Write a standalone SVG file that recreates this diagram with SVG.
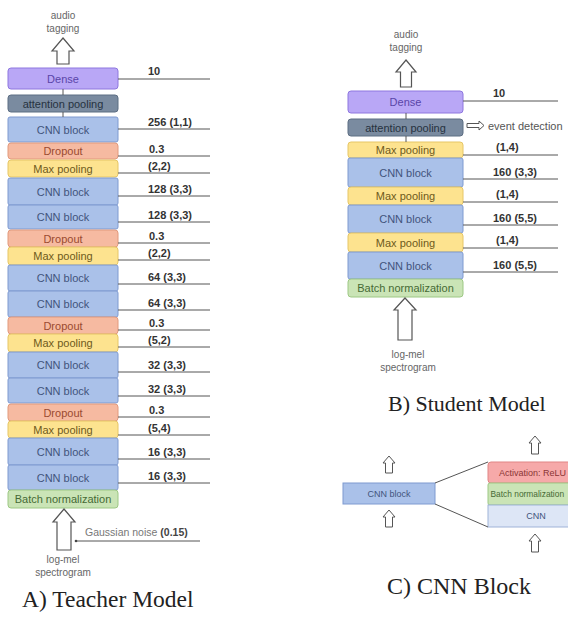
<svg xmlns="http://www.w3.org/2000/svg" width="568" height="622" viewBox="0 0 568 622">
<style>
text{font-family:"Liberation Sans",Arial,sans-serif}
.bt{font-size:11px;text-anchor:middle}
.sm{font-size:9px;text-anchor:middle}
.lab{font-size:11px;font-weight:bold;fill:#333}
.cap{font-size:10px;fill:#666;text-anchor:middle}
.title{font-family:"Liberation Serif","Times New Roman",serif;font-size:22px;fill:#222}
.dense{fill:#b9a7f6;stroke:#8e77df;stroke-width:1}
.att{fill:#7a8ba0;stroke:#5d6e83;stroke-width:1}
.cnn{fill:#aac1e9;stroke:#7e9ad0;stroke-width:1}
.drop{fill:#f6baa1;stroke:#e29a7d;stroke-width:1}
.maxp{fill:#fde38f;stroke:#e6c666;stroke-width:1}
.bn{fill:#cae4b6;stroke:#9dc884;stroke-width:1}
.relu{fill:#f6a9a9;stroke:#e08585;stroke-width:1}
.cnnl{fill:#dde6f6;stroke:#9fb3d8;stroke-width:1}
.t-dense{fill:#5a45a8}.t-att{fill:#26323f}.t-cnn{fill:#42547c}.t-drop{fill:#9a4a30}.t-maxp{fill:#6e5a1c}.t-bn{fill:#466a35}.t-relu{fill:#8a3535}
.ln{stroke:#555;stroke-width:1;fill:none}
.arr{fill:#fff;stroke:#555;stroke-width:1.2;stroke-linejoin:miter}
</style>

<!-- ===== A) Teacher Model ===== -->
<g id="teacher-output">
<text class="cap" x="63" y="19">audio</text>
<text class="cap" x="63" y="32">tagging</text>
<path class="arr" d="M63,38 L74,51 L69,51 L69,64 L57,64 L57,51 L52,51 Z"/>
</g>
<g id="t-dense"><rect class="dense" x="8" y="68" width="110" height="21" rx="3"/><text class="bt t-dense" x="63" y="82.5">Dense</text></g>
<g id="t-att"><rect class="att" x="8" y="95" width="110" height="17" rx="3"/><text class="bt t-att" x="63" y="107.5">attention pooling</text></g>
<g id="t-cnn1"><rect class="cnn" x="8" y="117" width="110" height="25" rx="2"/><text class="bt t-cnn" x="63" y="133.5">CNN block</text></g>
<g id="t-drop1"><rect class="drop" x="8" y="143" width="110" height="16" rx="3"/><text class="bt t-drop" x="63" y="155">Dropout</text></g>
<g id="t-max1"><rect class="maxp" x="8" y="160" width="110" height="17" rx="3"/><text class="bt t-maxp" x="63" y="172.5">Max pooling</text></g>
<g id="t-cnn2"><rect class="cnn" x="8" y="178" width="110" height="27" rx="2"/><text class="bt t-cnn" x="63" y="195.5">CNN block</text></g>
<g id="t-cnn3"><rect class="cnn" x="8" y="205" width="110" height="24" rx="2"/><text class="bt t-cnn" x="63" y="221">CNN block</text></g>
<g id="t-drop2"><rect class="drop" x="8" y="230" width="110" height="17" rx="3"/><text class="bt t-drop" x="63" y="242.5">Dropout</text></g>
<g id="t-max2"><rect class="maxp" x="8" y="247" width="110" height="18" rx="3"/><text class="bt t-maxp" x="63" y="260">Max pooling</text></g>
<g id="t-cnn4"><rect class="cnn" x="8" y="265" width="110" height="26" rx="2"/><text class="bt t-cnn" x="63" y="282">CNN block</text></g>
<g id="t-cnn5"><rect class="cnn" x="8" y="291" width="110" height="26" rx="2"/><text class="bt t-cnn" x="63" y="308">CNN block</text></g>
<g id="t-drop3"><rect class="drop" x="8" y="317" width="110" height="17" rx="3"/><text class="bt t-drop" x="63" y="329.5">Dropout</text></g>
<g id="t-max3"><rect class="maxp" x="8" y="334" width="110" height="18" rx="3"/><text class="bt t-maxp" x="63" y="347">Max pooling</text></g>
<g id="t-cnn6"><rect class="cnn" x="8" y="352" width="110" height="26" rx="2"/><text class="bt t-cnn" x="63" y="369">CNN block</text></g>
<g id="t-cnn7"><rect class="cnn" x="8" y="378" width="110" height="25" rx="2"/><text class="bt t-cnn" x="63" y="394.5">CNN block</text></g>
<g id="t-drop4"><rect class="drop" x="8" y="404" width="110" height="17" rx="3"/><text class="bt t-drop" x="63" y="416.5">Dropout</text></g>
<g id="t-max4"><rect class="maxp" x="8" y="421" width="110" height="17" rx="3"/><text class="bt t-maxp" x="63" y="433.5">Max pooling</text></g>
<g id="t-cnn8"><rect class="cnn" x="8" y="438" width="110" height="27" rx="2"/><text class="bt t-cnn" x="63" y="455.5">CNN block</text></g>
<g id="t-cnn9"><rect class="cnn" x="8" y="465" width="110" height="25" rx="2"/><text class="bt t-cnn" x="63" y="481.5">CNN block</text></g>
<g id="t-bn"><rect class="bn" x="8" y="490" width="110" height="18" rx="3"/><text class="bt t-bn" x="63" y="503">Batch normalization</text></g>
<g id="teacher-input">
<path class="arr" d="M64,509 L75,522 L71,522 L71,550 L57,550 L57,522 L53,522 Z"/>
<text class="cap" x="63" y="563">log-mel</text>
<text class="cap" x="63" y="576">spectrogram</text>
</g>
<g id="t-noise">
<text x="85" y="536" style="font-size:10.5px;fill:#777">Gaussian noise <tspan style="font-weight:bold;fill:#444">(0.15)</tspan></text>
</g>
<g id="t-title"><text class="title" x="22" y="607" style="font-size:23.5px">A) Teacher Model</text></g>

<!-- ===== B) Student Model ===== -->
<g id="student-output">
<text class="cap" x="406" y="38">audio</text>
<text class="cap" x="406" y="51">tagging</text>
<path class="arr" d="M406,60 L416,72 L411.5,72 L411.5,87 L400.5,87 L400.5,72 L396,72 Z"/>
</g>
<g id="s-dense"><rect class="dense" x="348" y="91" width="115" height="22" rx="3"/><text class="bt t-dense" x="405.5" y="106">Dense</text></g>
<g id="s-att"><rect class="att" x="348" y="119" width="115" height="17" rx="3"/><text class="bt t-att" x="405.5" y="131.5">attention pooling</text></g>
<g id="s-event">
<path class="arr" style="stroke-width:1" d="M467,123.5 L479,123.5 L479,121 L484,125.5 L479,130 L479,127.5 L467,127.5 Z"/>
<text x="488" y="129.5" style="font-size:11px;fill:#555">event detection</text>
</g>
<g id="s-max1"><rect class="maxp" x="348" y="142" width="115" height="16" rx="3"/><text class="bt t-maxp" x="405.5" y="154">Max pooling</text></g>
<g id="s-cnn1"><rect class="cnn" x="348" y="158" width="115" height="29" rx="2"/><text class="bt t-cnn" x="405.5" y="176.5">CNN block</text></g>
<g id="s-max2"><rect class="maxp" x="348" y="187" width="115" height="18" rx="3"/><text class="bt t-maxp" x="405.5" y="200">Max pooling</text></g>
<g id="s-cnn2"><rect class="cnn" x="348" y="205" width="115" height="28" rx="2"/><text class="bt t-cnn" x="405.5" y="223">CNN block</text></g>
<g id="s-max3"><rect class="maxp" x="348" y="233" width="115" height="19" rx="3"/><text class="bt t-maxp" x="405.5" y="246.5">Max pooling</text></g>
<g id="s-cnn3"><rect class="cnn" x="348" y="252" width="115" height="27" rx="2"/><text class="bt t-cnn" x="405.5" y="269.5">CNN block</text></g>
<g id="s-bn"><rect class="bn" x="348" y="279" width="115" height="18" rx="3"/><text class="bt t-bn" x="405.5" y="292">Batch normalization</text></g>
<g id="student-input">
<path class="arr" d="M405,298 L416,310 L412,310 L412,340 L398,340 L398,310 L394,310 Z"/>
<text class="cap" x="408" y="358">log-mel</text>
<text class="cap" x="408" y="371">spectrogram</text>
</g>
<g id="s-title"><text class="title" x="388" y="411">B) Student Model</text></g>

<!-- ===== C) CNN Block ===== -->
<g id="c-block"><rect class="cnn" x="343" y="483" width="92" height="21"/><text class="sm t-cnn" x="389" y="496.5">CNN block</text></g>
<g id="c-relu"><rect class="relu" x="488" y="462" width="100" height="21" rx="3"/><text class="t-relu" x="499" y="475.5" style="font-size:9px">Activation: ReLU</text></g>
<g id="c-bn"><rect class="bn" x="488" y="483" width="100" height="22" rx="2"/><text class="t-bn" x="490.5" y="497" style="font-size:8.4px">Batch normalization</text></g>
<g id="c-cnn"><rect class="cnnl" x="488" y="505" width="100" height="22"/><text class="sm t-cnn" x="536" y="519">CNN</text></g>
<g id="c-arrows">
<path class="arr" style="stroke-width:1" d="M389,456 L395,463 L392.5,463 L392.5,473 L385.5,473 L385.5,463 L383,463 Z"/>
<path class="arr" style="stroke-width:1" d="M389,510 L395,517 L392.5,517 L392.5,527 L385.5,527 L385.5,517 L383,517 Z"/>
<path class="arr" style="stroke-width:1" d="M535,436 L541,443 L538.5,443 L538.5,454 L531.5,454 L531.5,443 L529,443 Z"/>
<path class="arr" style="stroke-width:1" d="M535,534 L541,541 L538.5,541 L538.5,552 L531.5,552 L531.5,541 L529,541 Z"/>
</g>
<g id="c-title"><text class="title" x="387" y="594" style="font-size:24px">C) CNN Block</text></g>

<!-- ===== connectors ===== -->
<g id="connectors">
<line class="ln" x1="63" y1="89" x2="63" y2="95"/>
<line class="ln" x1="63" y1="112" x2="63" y2="117"/>
<line class="ln" x1="406" y1="113" x2="406" y2="119"/>
<line class="ln" x1="406" y1="136" x2="406" y2="142"/>
<line class="ln" x1="76" y1="541" x2="200" y2="541"/>
<circle cx="76" cy="541" r="1.3" fill="#444"/>
<line class="ln" x1="435" y1="483" x2="488" y2="462"/>
<line class="ln" x1="435" y1="504" x2="488" y2="527"/>
<g id="t-labels">
<line class="ln" x1="118" y1="79" x2="210" y2="79"/><text class="lab" x="148" y="75">10</text>
<line class="ln" x1="118" y1="129" x2="210" y2="129"/><text class="lab" x="148" y="126">256 (1,1)</text>
<line class="ln" x1="118" y1="156" x2="210" y2="156"/><text class="lab" x="149" y="153">0.3</text>
<line class="ln" x1="118" y1="173" x2="210" y2="173"/><text class="lab" x="148" y="170">(2,2)</text>
<line class="ln" x1="118" y1="196" x2="210" y2="196"/><text class="lab" x="148" y="193">128 (3,3)</text>
<line class="ln" x1="118" y1="222" x2="210" y2="222"/><text class="lab" x="148" y="219">128 (3,3)</text>
<line class="ln" x1="118" y1="243" x2="210" y2="243"/><text class="lab" x="149" y="240">0.3</text>
<line class="ln" x1="118" y1="260" x2="210" y2="260"/><text class="lab" x="148" y="257">(2,2)</text>
<line class="ln" x1="118" y1="284" x2="210" y2="284"/><text class="lab" x="148" y="281">64 (3,3)</text>
<line class="ln" x1="118" y1="310" x2="210" y2="310"/><text class="lab" x="148" y="307">64 (3,3)</text>
<line class="ln" x1="118" y1="330" x2="210" y2="330"/><text class="lab" x="149" y="327">0.3</text>
<line class="ln" x1="118" y1="347" x2="210" y2="347"/><text class="lab" x="148" y="344">(5,2)</text>
<line class="ln" x1="118" y1="372" x2="210" y2="372"/><text class="lab" x="148" y="369">32 (3,3)</text>
<line class="ln" x1="118" y1="396" x2="210" y2="396"/><text class="lab" x="148" y="393">32 (3,3)</text>
<line class="ln" x1="118" y1="417" x2="210" y2="417"/><text class="lab" x="149" y="414">0.3</text>
<line class="ln" x1="118" y1="435" x2="210" y2="435"/><text class="lab" x="148" y="432">(5,4)</text>
<line class="ln" x1="118" y1="459" x2="210" y2="459"/><text class="lab" x="148" y="456">16 (3,3)</text>
<line class="ln" x1="118" y1="483" x2="210" y2="483"/><text class="lab" x="148" y="480">16 (3,3)</text>
</g>
<g id="s-labels">
<line class="ln" x1="463" y1="101" x2="558" y2="101"/><text class="lab" x="493" y="97">10</text>
<line class="ln" x1="463" y1="155" x2="558" y2="155"/><text class="lab" x="496" y="151">(1,4)</text>
<line class="ln" x1="463" y1="179" x2="558" y2="179"/><text class="lab" x="493" y="176">160 (3,3)</text>
<line class="ln" x1="463" y1="202" x2="558" y2="202"/><text class="lab" x="496" y="198">(1,4)</text>
<line class="ln" x1="463" y1="225" x2="558" y2="225"/><text class="lab" x="493" y="222">160 (5,5)</text>
<line class="ln" x1="463" y1="248" x2="558" y2="248"/><text class="lab" x="496" y="244">(1,4)</text>
<line class="ln" x1="463" y1="272" x2="558" y2="272"/><text class="lab" x="493" y="269">160 (5,5)</text>
</g>
</g>
</svg>
